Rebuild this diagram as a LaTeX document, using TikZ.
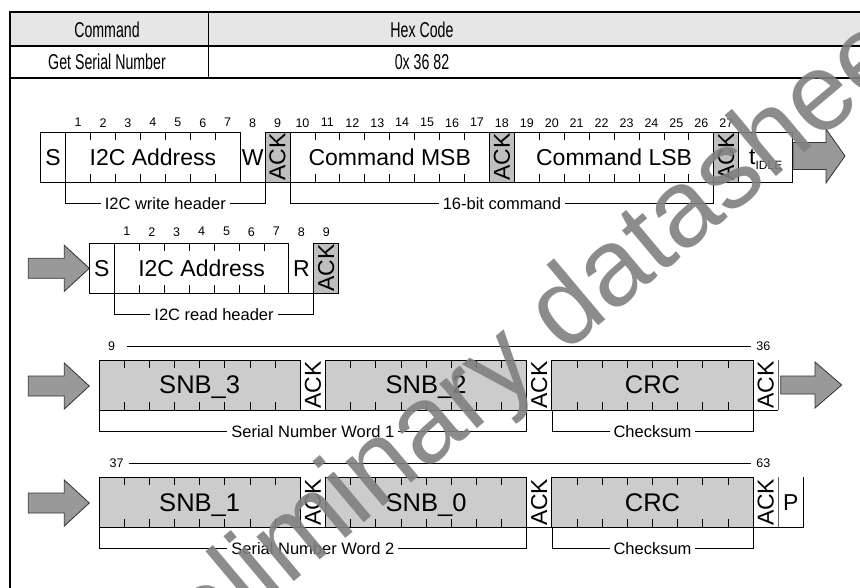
\documentclass[tikz,border=0pt]{standalone}
\usepackage{fontspec}
\setmainfont{Liberation Sans}
\usetikzlibrary{positioning}
\definecolor{fieldgray}{HTML}{CCCCCC}
\definecolor{ackgray}{HTML}{BFBFBF}
\definecolor{arrowgray}{HTML}{999999}
\definecolor{headgray}{HTML}{E6E6E6}
\definecolor{markgray}{HTML}{808080}
\newcommand{\fsz}[1]{\fontsize{#1}{#1}\selectfont}
% tick marks on the inner cell borders of a field
\newcommand{\fieldticks}[3]{%
  \foreach \k in {1,...,#2}{%
    \draw ([xshift=\k*#3]#1.north west) -- ++(0,8)
          ([xshift=\k*#3]#1.south west) -- ++(0,-8);}}
% block arrow: start x, tip x, centre y, shaft half, head half, head length
\newcommand{\flowarrow}[6]{%
  \draw[flow] (#1,#3-#4) -- (#2-#6,#3-#4) -- (#2-#6,#3-#5) -- (#2,#3)
    -- (#2-#6,#3+#5) -- (#2-#6,#3+#4) -- (#1,#3+#4) -- cycle;}
\def\ua{24.93}
\def\ub{25.16}

\begin{document}
\begin{tikzpicture}[x=1pt,y=-1pt,line width=0.8pt,
    every node/.style={inner sep=0pt,outer sep=0pt},
    field/.style={draw,minimum height=50pt,text depth=0pt,font=\fsz{23}},
    datafield/.style={field,fill=fieldgray,font=\fsz{25.5}},
    ackbit/.style={field,fill=ackgray,minimum width=\ua},
    bitcell/.style={minimum height=50pt,text depth=0pt,font=\fsz{23}},
    bitnum/.style={font=\fsz{12.5}},
    brlabel/.style={fill=white,inner xsep=4pt,font=\fsz{16.5}},
    bracket/.style={line width=0.7pt},
    tabtext/.style={font=\fsz{21.5}},
    flow/.style={draw=black!80,fill=arrowgray},
  ]
  \useasboundingbox (0,0) rectangle (860,588);
  \clip (0,0) rectangle (860,588);

  % command table
  \fill[headgray] (10,12.5) rectangle (870,46.5);
  \draw[line width=2pt] (10,600) -- (10,12.5) -- (870,12.5);
  \draw[line width=2pt] (10,46.5) -- (870,46.5) (10,78.5) -- (870,78.5);
  \draw (208,12.5) -- (208,78.5);
  \node[tabtext] (hcmd) at (107,30) {\scalebox{0.66}[1]{Command}};
  \node[tabtext] (hhex) at (422,30) {\scalebox{0.66}[1]{Hex Code}};
  \node[tabtext] (vcmd) at (107,62) {\scalebox{0.66}[1]{Get Serial Number}};
  \node[tabtext] (vhex) at (422,62) {\scalebox{0.66}[1]{0x 36 82}};

  % write header and command
  \node[field,minimum width=\ua,anchor=west] (s1) at (40.7,157.3) {S};
  \node[field,minimum width=7*\ua,right=0pt of s1] (addr1) {I2C Address};
  \node[bitcell,minimum width=\ua,right=0pt of addr1] (w1) {W};
  \node[ackbit,right=0pt of w1] (ack1) {\rotatebox{90}{ACK}};
  \node[field,minimum width=8*\ua,right=0pt of ack1] (msb) {Command MSB};
  \node[ackbit,right=0pt of msb] (ack2) {\rotatebox{90}{ACK}};
  \node[field,minimum width=8*\ua,right=0pt of ack2] (lsb) {Command LSB};
  \node[ackbit,right=0pt of lsb] (ack3) {\rotatebox{90}{ACK}};
  \node[field,minimum width=54,right=0pt of ack3] (idle) {t\raisebox{-5pt}{\fsz{12}IDLE}};
  \draw (w1.south west) -- (w1.south east);
  \fieldticks{addr1}{6}{\ua}
  \fieldticks{msb}{7}{\ua}
  \fieldticks{lsb}{7}{\ua}
  \foreach \i in {1,...,27}
    \node[bitnum] (wb\i) at ({40.7+(\i+0.5)*\ua},122.7) {\i};
  \draw[bracket] (addr1.south west) -- ++(0,21) -| node[pos=0.25,brlabel] (lwh) {I2C write header} (ack1.south west);
  \draw[bracket] (msb.south west) -- ++(0,21) -| node[pos=0.25,brlabel] (lcmd) {16-bit command} (ack3.south west);
  \flowarrow{793}{845}{156}{13.5}{27}{19}

  % read header
  \node[field,minimum width=\ua,anchor=west] (s2) at (89.4,268.3) {S};
  \node[field,minimum width=7*\ua,right=0pt of s2] (addr2) {I2C Address};
  \node[bitcell,minimum width=\ua,right=0pt of addr2] (r2) {R};
  \node[ackbit,right=0pt of r2] (ack4) {\rotatebox{90}{ACK}};
  \draw (r2.south west) -- (r2.south east);
  \fieldticks{addr2}{6}{\ua}
  \foreach \i in {1,...,9}
    \node[bitnum] (rb\i) at ({89.4+(\i+0.5)*\ua},231.7) {\i};
  \draw[bracket] (addr2.south west) -- ++(0,21) -| node[pos=0.25,brlabel] (lrh) {I2C read header} (ack4.south west);
  \flowarrow{28.3}{89.3}{268.3}{10}{23}{25}

  % serial number word 1
  \node[datafield,minimum width=8*\ub,anchor=west] (snb3) at (99,385) {SNB\_3};
  \node[bitcell,minimum width=\ub,right=0pt of snb3] (a31) {\rotatebox{90}{ACK}};
  \node[datafield,minimum width=8*\ub,right=0pt of a31] (snb2) {SNB\_2};
  \node[bitcell,minimum width=\ub,right=0pt of snb2] (a32) {\rotatebox{90}{ACK}};
  \node[datafield,minimum width=8*\ub,right=0pt of a32] (crc1) {CRC};
  \node[bitcell,minimum width=\ub,right=0pt of crc1] (a33) {\rotatebox{90}{ACK}};
  \draw (snb3.south west) -- (a33.south east);
  \draw[black!60] (a33.north east) -- (a33.south east);
  \foreach \f in {snb3,snb2,crc1} {\fieldticks{\f}{7}{\ub}}
  \node[bitnum] (sp9) at (111.7,346) {9};
  \node[bitnum] (sp36) at (763.3,346) {36};
  \draw ([xshift=12pt]sp9.east) -- ([xshift=-5pt]sp36.west);
  \draw[bracket] (snb3.south west) -- ++(0,21.5) -| node[pos=0.25,brlabel] (lw1) {Serial Number Word 1} (a32.south west);
  \draw[bracket] (crc1.south west) -- ++(0,21.5) -| node[pos=0.25,brlabel] (lcs1) {Checksum} (a33.south west);
  \flowarrow{28.3}{89.3}{386}{10}{23}{25}
  \flowarrow{780.7}{841.7}{385}{9}{23}{26.7}

  % serial number word 2
  \node[datafield,minimum width=8*\ub,anchor=west] (snb1) at (99,502.3) {SNB\_1};
  \node[bitcell,minimum width=\ub,right=0pt of snb1] (a41) {\rotatebox{90}{ACK}};
  \node[datafield,minimum width=8*\ub,right=0pt of a41] (snb0) {SNB\_0};
  \node[bitcell,minimum width=\ub,right=0pt of snb0] (a42) {\rotatebox{90}{ACK}};
  \node[datafield,minimum width=8*\ub,right=0pt of a42] (crc2) {CRC};
  \node[bitcell,minimum width=\ub,right=0pt of crc2] (a43) {\rotatebox{90}{ACK}};
  \node[bitcell,minimum width=\ub,right=0pt of a43] (p4) {P};
  \draw (snb1.south west) -- (p4.south east) -- (p4.north east);
  \draw[black!60] (a43.north east) -- (a43.south east);
  \foreach \f in {snb1,snb0,crc2} {\fieldticks{\f}{7}{\ub}}
  \node[bitnum] (sp37) at (116.7,463.3) {37};
  \node[bitnum] (sp63) at (763.3,463.3) {63};
  \draw ([xshift=5pt]sp37.east) -- ([xshift=-5pt]sp63.west);
  \draw[bracket] (snb1.south west) -- ++(0,21) -| node[pos=0.25,brlabel] (lw2) {Serial Number Word 2} (a42.south west);
  \draw[bracket] (crc2.south west) -- ++(0,21) -| node[pos=0.25,brlabel] (lcs2) {Checksum} (a43.south west);
  \flowarrow{28.3}{89.3}{503}{10}{23}{25}

  % watermark
  \node[text=markgray,opacity=0.9,rotate=40,anchor=base east,font=\fsz{110}] (mark) at (935,44) {Preliminary datasheet};
\end{tikzpicture}
\end{document}
